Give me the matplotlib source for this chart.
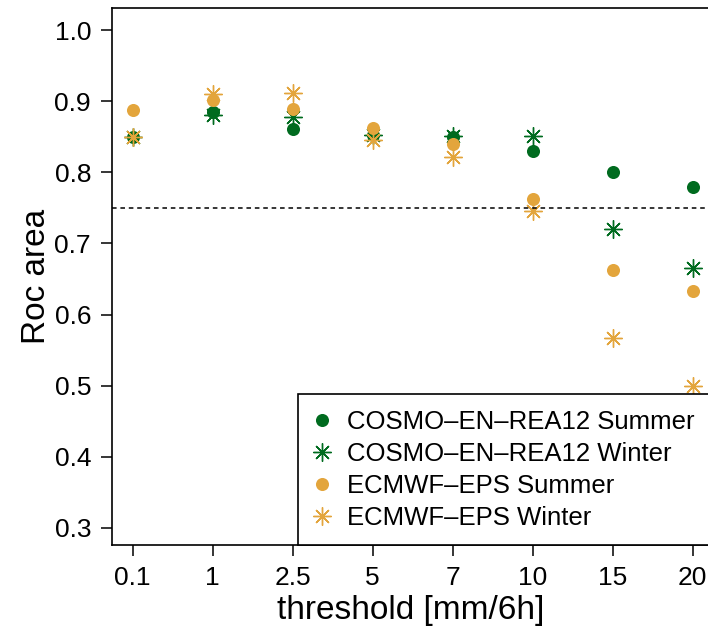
import matplotlib
matplotlib.use('Agg')
import matplotlib.pyplot as plt

plt.rcParams['font.family'] = ['Liberation Sans', 'DejaVu Sans']

thresholds = ['0.1', '1', '2.5', '5', '7', '10', '15', '20']
cosmo_summer = [0.850, 0.885, 0.861, 0.852, 0.850, 0.830, 0.800, 0.779]
cosmo_winter = [0.850, 0.880, 0.878, 0.852, 0.851, 0.851, 0.720, 0.666]
ecmwf_summer = [0.888, 0.902, 0.889, 0.862, 0.840, 0.762, 0.662, 0.633]
ecmwf_winter = [0.850, 0.910, 0.912, 0.845, 0.822, 0.745, 0.567, 0.500]

green = '#006b1f'
orange = '#e3a53c'

fig = plt.figure(figsize=(7.08, 6.35), dpi=100)
ax = fig.add_axes([0.158, 0.1417, 0.845, 0.8457])

x = list(range(len(thresholds)))
star = (8, 2, 0)
ax.plot(x, cosmo_summer, 'o', color=green, ms=9.4, mec='none', label='COSMO–EN–REA12 Summer')
ax.plot(x, cosmo_winter, marker=star, ls='none', color=green, ms=13, mew=1.0,
        label='COSMO–EN–REA12 Winter')
ax.plot(x, ecmwf_summer, 'o', color=orange, ms=9.4, mec='none', label='ECMWF–EPS Summer')
ax.plot(x, ecmwf_winter, marker=star, ls='none', color=orange, ms=13, mew=1.0,
        label='ECMWF–EPS Winter')

ax.axhline(0.75, color='black', ls=(0, (3, 2.5)), lw=1.1)

ax.set_xlim(-0.26, 7.22)
ax.set_ylim(0.276, 1.031)
ax.set_xticks(x)
ax.set_xticklabels(thresholds)
ax.set_yticks([0.3, 0.4, 0.5, 0.6, 0.7, 0.8, 0.9, 1.0])
ax.set_yticklabels(['0.3', '0.4', '0.5', '0.6', '0.7', '0.8', '0.9', '1.0'])
ax.tick_params(direction='out', length=8, width=1.1, labelsize=19, pad=7)
for s in ax.spines.values():
    s.set_linewidth(1.2)

ax.set_xlabel('threshold [mm/6h]', fontsize=24, labelpad=4)
ax.set_ylabel('Roc area', fontsize=24, labelpad=1.5)

leg = ax.legend(loc='lower right', bbox_to_anchor=(1.0, 0.0), borderaxespad=0,
                fontsize=18.5, fancybox=False, edgecolor='black', framealpha=1,
                handletextpad=0.7, labelspacing=0.31, borderpad=0.6, handlelength=0.6)
leg.get_frame().set_linewidth(1.2)

fig.savefig('out.png', dpi=100)
